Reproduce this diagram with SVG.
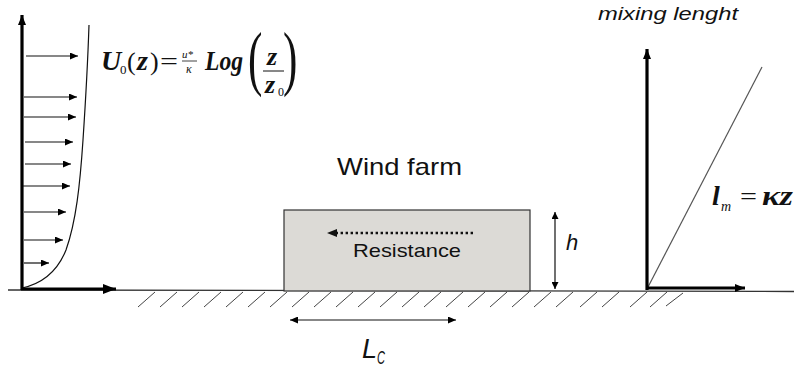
<svg xmlns="http://www.w3.org/2000/svg" width="794" height="369" viewBox="0 0 794 369">
<style>
.thin{stroke:#111;stroke-width:1.2;fill:none}
.axis{stroke:#000;stroke-width:3.2;fill:none}
.hatch{stroke:#444;stroke-width:1;fill:none}
.sans{font-family:"Liberation Sans",Arial,sans-serif;fill:#111}
.math{font-family:"Liberation Serif","Times New Roman",serif;fill:#111}
.bi{font-weight:bold;font-style:italic}
</style>
<defs>
<marker id="ah" viewBox="0 0 8 7" refX="8" refY="3.5" markerWidth="8" markerHeight="7" markerUnits="userSpaceOnUse" orient="auto-start-reverse"><path d="M0,0 L8,3.5 L0,7 z" fill="#000"/></marker>
<marker id="ahs" viewBox="0 0 7 7" refX="7" refY="3.5" markerWidth="7" markerHeight="7" markerUnits="userSpaceOnUse" orient="auto-start-reverse"><path d="M0,0 L7,3.5 L0,7 z" fill="#000"/></marker>
<marker id="big" viewBox="0 0 13 10" refX="13" refY="5" markerWidth="13" markerHeight="10" markerUnits="userSpaceOnUse" orient="auto"><path d="M0,0 L13,5 L0,10 z" fill="#000"/></marker>
<marker id="top" viewBox="0 0 10 8" refX="10" refY="4" markerWidth="10" markerHeight="8" markerUnits="userSpaceOnUse" orient="auto"><path d="M0,0 L10,4 L0,8 z" fill="#000"/></marker>
</defs>

<g id="ground">
<line x1="8" y1="290" x2="794" y2="291.5" stroke="#333" stroke-width="1.3"/>
<g class="hatch">
<path d="M138,307 L155,292 M160,307 L177,292 M182,307 L199,292 M204,307 L221,292 M226,307 L243,292 M248,307 L265,292 M270,307 L287,292 M292,307 L309,292 M314,307 L331,292 M336,307 L353,292 M358,307 L375,292 M380,307 L397,292 M402,307 L419,292 M424,307 L441,292 M446,307 L463,292 M468,307 L485,292 M490,307 L507,292 M512,307 L529,292 M534,307 L551,292 M556,307 L573,292 M580,307 L597,292 M602,307 L619,292 M630,307 L647,292 M650,307 L667,292 M666,306 L683,293"/>
</g>
</g>

<g id="velocity-profile">
<path class="thin" d="M22,288 C45,283 58,270 66,250 C76,222 80,185 83,140 C86,95 88,55 89,25" stroke="#222"/>
</g>

<g id="formula" class="math">
<text x="101" y="70" font-size="28" class="bi">U</text>
<text x="120" y="74" font-size="13">0</text>
<text x="127" y="70" font-size="26">(</text>
<text x="137" y="70" font-size="28" class="bi">z</text>
<text x="150" y="70" font-size="26">)</text>
<text x="160" y="70" font-size="26" textLength="18" lengthAdjust="spacingAndGlyphs">=</text>
<text x="182" y="58" font-size="11" font-style="italic">u*</text>
<line x1="182" y1="61" x2="197" y2="61" stroke="#111" stroke-width="0.8"/>
<text x="186" y="73" font-size="12" font-style="italic">κ</text>
<text x="205" y="70" font-size="28" class="bi" textLength="38" lengthAdjust="spacingAndGlyphs">Log</text>
<text transform="translate(248,82) scale(0.6,1)" font-size="72">(</text>
<text x="267" y="65" font-size="26" class="bi">z</text>
<line x1="263" y1="71" x2="284" y2="71" stroke="#111" stroke-width="1"/>
<text x="265" y="93" font-size="26" class="bi">z</text>
<text x="278" y="96" font-size="12">0</text>
<text transform="translate(283,82) scale(0.6,1)" font-size="72">)</text>
</g>

<g id="wind-farm">
<rect x="284" y="210" width="246" height="81" fill="#dcdad6" stroke="#333" stroke-width="1.2"/>
<text x="337" y="175" font-size="24" class="sans" textLength="125" lengthAdjust="spacingAndGlyphs">Wind farm</text>
<text x="353" y="257" font-size="19" class="sans" textLength="108" lengthAdjust="spacingAndGlyphs">Resistance</text>
<text x="566" y="250" font-size="22" class="sans" font-style="italic">h</text>
<text x="362" y="358" font-size="27" class="sans" font-style="italic">L</text>
<text x="377" y="364" font-size="19" class="sans" font-style="italic" textLength="8" lengthAdjust="spacingAndGlyphs">C</text>
</g>

<g id="mixing-length">
<text x="598" y="20" font-size="19" class="sans" font-style="italic" textLength="140" lengthAdjust="spacingAndGlyphs">mixing lenght</text>
<line x1="647" y1="289" x2="762" y2="67" stroke="#555" stroke-width="1.2"/>
<g class="math">
<text x="712" y="205" font-size="28" class="bi">l</text>
<text x="721" y="211" font-size="14" font-style="italic">m</text>
<text x="740" y="205" font-size="26" textLength="17" lengthAdjust="spacingAndGlyphs">=</text>
<text x="762" y="205" font-size="27" class="bi" textLength="31" lengthAdjust="spacingAndGlyphs">κz</text>
</g>
</g>

<g id="connectors">
<line class="axis" x1="22" y1="290" x2="22" y2="15" marker-end="url(#top)"/>
<line class="axis" x1="21" y1="289" x2="116" y2="289" marker-end="url(#big)" stroke-width="3.6"/>
<line class="axis" x1="647" y1="290" x2="647" y2="49" marker-end="url(#top)"/>
<line class="axis" x1="646" y1="288" x2="745" y2="288" marker-end="url(#top)"/>
<g class="thin">
<line x1="26" y1="56" x2="78" y2="56" marker-end="url(#ah)"/>
<line x1="24" y1="97" x2="77" y2="97" marker-end="url(#ah)"/>
<line x1="24" y1="117" x2="76" y2="117" marker-end="url(#ah)"/>
<line x1="25" y1="142" x2="73" y2="142" marker-end="url(#ah)"/>
<line x1="25" y1="164" x2="71" y2="164" marker-end="url(#ah)"/>
<line x1="23" y1="186" x2="70" y2="186" marker-end="url(#ah)"/>
<line x1="24" y1="212" x2="66" y2="212" marker-end="url(#ah)"/>
<line x1="24" y1="240" x2="63" y2="240" marker-end="url(#ah)"/>
<line x1="24" y1="263" x2="49" y2="263" marker-end="url(#ah)"/>
<line x1="555" y1="212" x2="555" y2="289" marker-start="url(#ahs)" marker-end="url(#ahs)"/>
<line x1="290" y1="320" x2="456" y2="320" marker-start="url(#ah)" marker-end="url(#ah)"/>
</g>
<line x1="473" y1="233" x2="336" y2="233" stroke="#111" stroke-width="2.6" stroke-dasharray="2.4 2.6"/>
<path d="M327,233 L337,229 L337,237 z" fill="#111"/>
</g>
</svg>
